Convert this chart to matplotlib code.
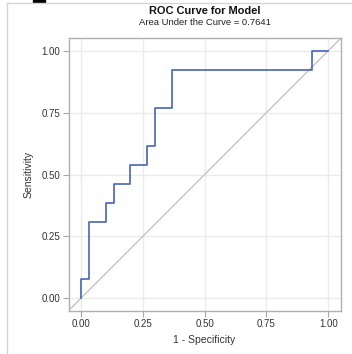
import matplotlib
matplotlib.use('Agg')
import matplotlib.pyplot as plt
from matplotlib.lines import Line2D
from matplotlib.patches import Rectangle
import numpy as np

plt.rcParams['font.family'] = ['Liberation Sans', 'DejaVu Sans']

# ROC curve vertices (30 negatives, 13 positives)
neg_count = [0, 0, 1, 1, 3, 3, 4, 4, 6, 6, 8, 8, 9, 9, 11, 11, 28, 28, 30]
pos_count = [0, 1, 1, 4, 4, 5, 5, 6, 6, 7, 7, 8, 8, 10, 10, 12, 12, 13, 13]
n_neg = 30
n_pos = 13
fpr = np.array(neg_count) / n_neg
tpr = np.array(pos_count) / n_pos
auc = 0.7641
ticks = [0.0, 0.25, 0.50, 0.75, 1.0]
tick_labels = ['0.00', '0.25', '0.50', '0.75', '1.00']

fig = plt.figure(figsize=(3.52, 3.54), dpi=100)
ax = fig.add_axes([68.5 / 352, 1 - 310.7 / 354, (340.7 - 68.5) / 352, (310.7 - 38.3) / 354])

ax.set_xlim(-0.05, 1.05)
ax.set_ylim(-0.05, 1.05)

# reference diagonal across the whole plot area
ax.plot([-0.05, 1.05], [-0.05, 1.05], color='#C4C4C4', lw=1.0, zorder=2)
ax.plot(fpr, tpr, color='#4565B3', lw=1.2, zorder=3)

ax.set_xticks(ticks)
ax.set_yticks(ticks)
ax.set_xticklabels(tick_labels)
ax.set_yticklabels(tick_labels)
ax.grid(True, color='#EBEBEB', lw=1.0, zorder=0)
ax.set_axisbelow(True)
ax.tick_params(axis='both', length=4, width=0.8, color='#A8A8A8', labelsize=7,
               labelcolor='#333333', pad=2)
for s in ax.spines.values():
    s.set_color('#B0B0B0')
    s.set_linewidth(1.0)

ax.set_xlabel('1 - Specificity', fontsize=7.5, color='#333333', labelpad=4)
ax.set_ylabel('Sensitivity', fontsize=7.5, color='#333333', labelpad=6)

fig.text(205 / 352, 1 - 11 / 354, 'ROC Curve for Model', ha='center', va='center',
         fontsize=7.9, fontweight='bold', color='#111111')
fig.text(205 / 352, 1 - 22.5 / 354, 'Area Under the Curve = %.4f' % auc, ha='center',
         va='center', fontsize=6.8, color='#222222')

# page border and cropped icon
fig.add_artist(Line2D([7 / 352, 7 / 352], [0, 1 - 2.7 / 354], color='#D4D4D4', lw=1.0))
fig.add_artist(Line2D([7 / 352, 1], [1 - 2.7 / 354, 1 - 2.7 / 354], color='#D4D4D4', lw=1.0))
fig.add_artist(Rectangle((33 / 352, 1 - 2 / 354), 12 / 352, 2 / 354, color='black'))

fig.savefig('out.png', dpi=100)
